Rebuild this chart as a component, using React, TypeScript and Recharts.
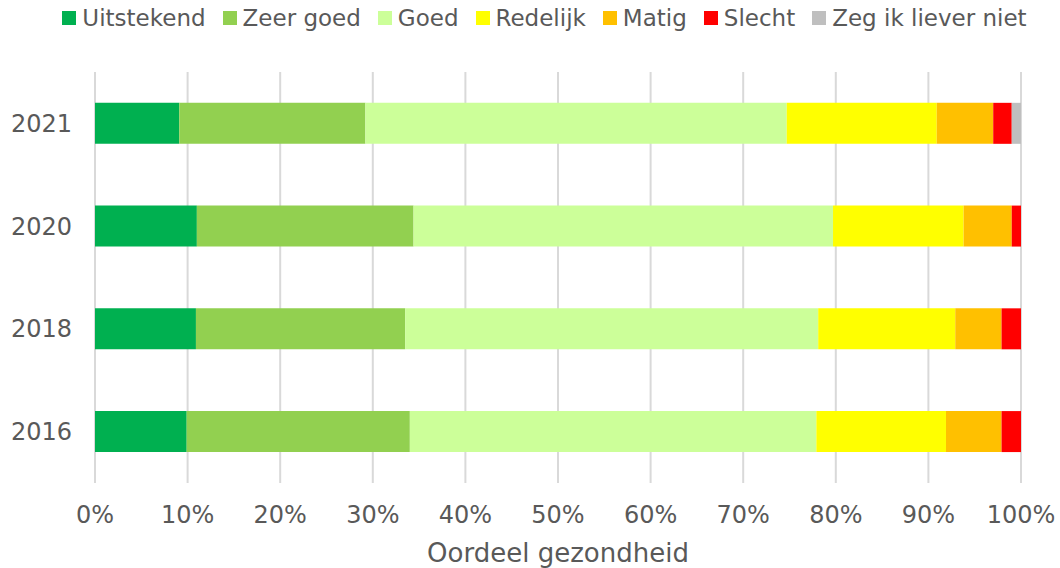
import { BarChart, Bar, XAxis, YAxis, CartesianGrid, Legend, Label } from 'recharts'

// Jaren, van boven naar beneden
const years = ['2021', '2020', '2018', '2016']

// Aandelen per oordeel (%), zelfde volgorde als years
const uitstekend = [9.1, 11.0, 10.9, 9.9]
const zeerGoed = [20.1, 23.4, 22.6, 24.1]
const goed = [45.5, 45.3, 44.6, 43.9]
const redelijk = [16.2, 14.1, 14.8, 14.0]
const matig = [6.1, 5.2, 5.0, 6.0]
const slecht = [2.0, 1.0, 2.1, 2.1]
const zegNiet = [1.0, 0, 0, 0]

const xTicks = [0, 10, 20, 30, 40, 50, 60, 70, 80, 90, 100]

const SERIES = [
  { key: 'uitstekend', label: 'Uitstekend', color: '#00B050', values: uitstekend },
  { key: 'zeerGoed', label: 'Zeer goed', color: '#92D050', values: zeerGoed },
  { key: 'goed', label: 'Goed', color: '#CCFF99', values: goed },
  { key: 'redelijk', label: 'Redelijk', color: '#FFFF00', values: redelijk },
  { key: 'matig', label: 'Matig', color: '#FFC000', values: matig },
  { key: 'slecht', label: 'Slecht', color: '#FF0000', values: slecht },
  { key: 'zegNiet', label: 'Zeg ik liever niet', color: '#BFBFBF', values: zegNiet },
]

const data = years.map((year, i) => {
  const row: Record<string, string | number> = { year }
  for (const s of SERIES) row[s.key] = s.values[i]
  return row
})

const FONT = '"DejaVu Sans", Verdana, sans-serif'
const TEXT = '#595959'

function TopLegend() {
  return (
    <div style={{ height: 68, display: 'flex', justifyContent: 'center', paddingLeft: 46 }}>
      {SERIES.map(s => (
        <div key={s.key} style={{ display: 'flex', alignItems: 'center', height: 28, marginRight: 17 }}>
          <span style={{ width: 14, height: 14, background: s.color, marginRight: 6, display: 'inline-block' }} />
          <span style={{ fontFamily: FONT, fontSize: 23, color: TEXT, whiteSpace: 'nowrap' }}>{s.label}</span>
        </div>
      ))}
    </div>
  )
}

export default function App() {
  return (
    <div style={{ position: 'absolute', left: 0, top: 0, width: 1060, height: 568, background: '#fff' }}>
      <BarChart
        width={1060}
        height={568}
        data={data}
        layout="vertical"
        barCategoryGap="30%"
        margin={{ top: 4, right: 39, bottom: 0, left: 0 }}
      >
        <Legend verticalAlign="top" content={<TopLegend />} wrapperStyle={{ top: 4, left: 0, width: 1060 }} />
        <CartesianGrid horizontal={false} stroke="#D9D9D9" strokeWidth={2} />
        <XAxis
          type="number"
          domain={[0, 100]}
          ticks={xTicks}
          tickFormatter={(v: number) => `${v}%`}
          axisLine={false}
          tickLine={false}
          tickMargin={17}
          height={85}
          tick={{ fontSize: 24, fill: TEXT, fontFamily: FONT }}
        >
          <Label
            value="Oordeel gezondheid"
            position="insideBottom"
            offset={6}
            style={{ fontSize: 26, fill: TEXT, fontFamily: FONT }}
          />
        </XAxis>
        <YAxis
          type="category"
          dataKey="year"
          axisLine={false}
          tickLine={false}
          width={95}
          tickMargin={17}
          tick={{ fontSize: 24, fill: TEXT, fontFamily: FONT }}
        />
        {SERIES.map(s => (
          <Bar key={s.key} dataKey={s.key} stackId="a" fill={s.color} isAnimationActive={false} />
        ))}
      </BarChart>
    </div>
  )
}
